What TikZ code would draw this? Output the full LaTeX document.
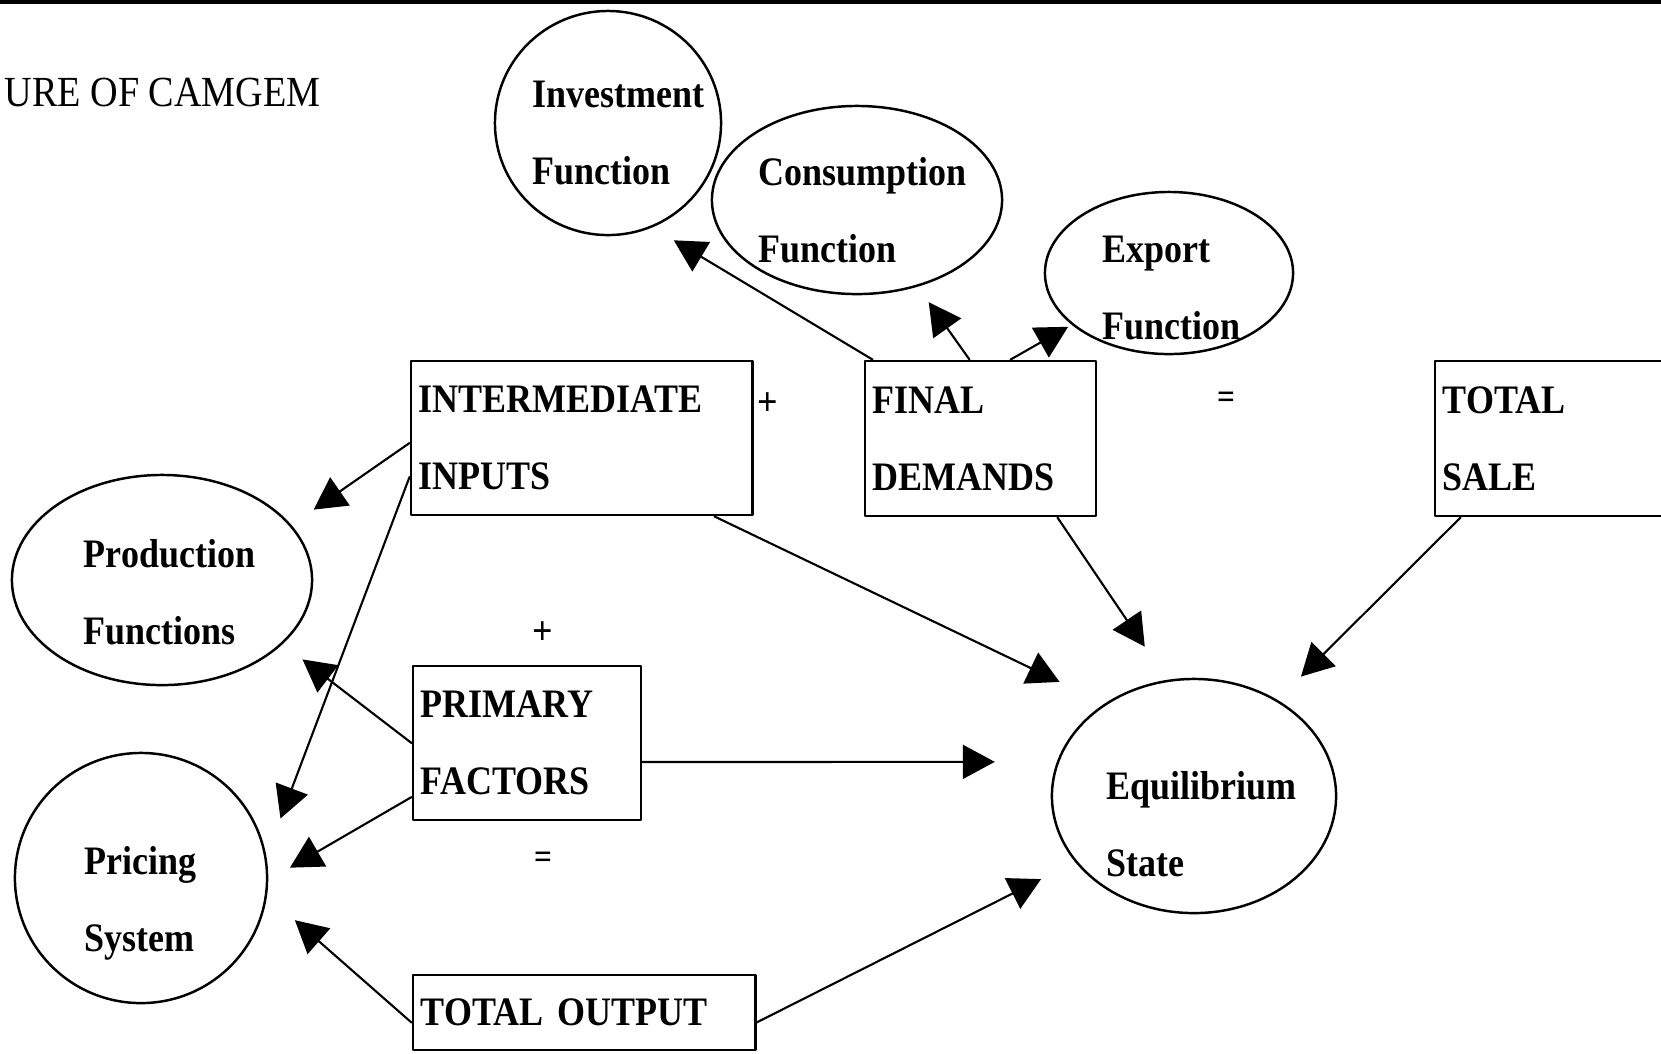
\documentclass[tikz,border=0pt]{standalone}
\usepackage{fontspec}
\setmainfont{Liberation Serif}[FakeStretch=0.89]
\usetikzlibrary{shapes.geometric,arrows.meta}

\begin{document}
\begin{tikzpicture}[x=0.01cm,y=-0.01cm,line cap=round,line join=round,
  box/.style={draw,line width=0.8pt,rectangle,inner xsep=0.08cm,inner ysep=0pt,align=left,
    font=\bfseries\fontsize{11.5}{21.9}\selectfont},
  oval/.style={draw,line width=0.7pt,ellipse,inner sep=0pt},
  lbl/.style={anchor=base west,align=left,inner sep=0pt,font=\bfseries\fontsize{11.5}{21.9}\selectfont},
  sign/.style={inner sep=0pt,font=\bfseries\fontsize{11.5}{12}\selectfont},
  arr/.style={line width=0.6pt,-{Triangle[length=0.32cm,width=0.34cm]}}]
\useasboundingbox (0,0) rectangle (1661,1053);
\clip (0,0) rectangle (1661,1053);
\draw[line width=1.3pt] (0,2) -- (1661,2);
\node[anchor=base west,inner sep=0pt,font=\fontsize{12.2}{14}\selectfont] (title) at (4,106) {URE OF CAMGEM};

\node[oval,minimum width=2.26cm,minimum height=2.24cm] (inv) at (608,123) {};
\node[oval,minimum width=2.90cm,minimum height=1.88cm] (con) at (857,200) {};
\node[oval,minimum width=2.48cm,minimum height=1.62cm] (exp) at (1169,273) {};
\node[oval,minimum width=3.00cm,minimum height=2.10cm] (prod) at (162,580) {};
\node[oval,minimum width=2.52cm,minimum height=2.50cm] (price) at (141,878) {};
\node[oval,minimum width=2.84cm,minimum height=2.34cm] (eq) at (1194,796) {};
\node[lbl] (invlbl) at (532,184) {Investment\\Function};
\node[lbl] (conlbl) at (758,262) {Consumption\\Function};
\node[lbl] (explbl) at (1102,339) {Export\\Function};
\node[lbl] (prodlbl) at (83,644) {Production\\Functions};
\node[lbl] (pricelbl) at (84,951) {Pricing\\System};
\node[lbl] (eqlbl) at (1106,876) {Equilibrium\\State};

\node[box,text width=3.25cm,minimum height=1.54cm] (inter) at (581.5,438) {INTERMEDIATE\\INPUTS};
\node[box,text width=2.15cm,minimum height=1.55cm] (fin) at (980.5,438.5) {FINAL\\DEMANDS};
\node[box,text width=2.24cm,minimum height=1.55cm] (sale) at (1555,438.5) {TOTAL\\SALE};
\node[box,text width=2.12cm,minimum height=1.54cm] (prim) at (527,743) {PRIMARY\\FACTORS};
\node[box,text width=3.26cm,minimum height=0.75cm] (out) at (584,1012.5) {TOTAL OUTPUT};

\node[sign] (plusa) at (768,404) {+};
\node[sign,font=\bfseries\fontsize{10}{10}\selectfont] (eqa) at (1226,400) {=};
\node[sign] (plusb) at (543,633) {+};
\node[sign,font=\bfseries\fontsize{10}{10}\selectfont] (eqb) at (543,860) {=};

\draw[arr,shorten >=0.25cm] ([xshift=0.09cm]fin.north west) -- (inv.293);
\draw[arr,shorten >=0.19cm] ([xshift=-0.11cm]fin.north) -- (con.305);
\draw[arr,shorten >=0.04cm] ([xshift=0.3cm]fin.north) -- (exp.208);
\draw[arr,shorten >=0.40cm] ([xshift=-0.4cm]fin.south east) -- (eq.103);
\draw[arr,shorten >=0.50cm] ([xshift=-0.39cm]inter.south east) -- (eq.134);
\draw[arr,shorten >=0.33cm] ([xshift=0.27cm]sale.south west) -- (eq.49);
\draw[arr,shorten >=0.62cm] ([yshift=-0.19cm]prim.east) -- (eq.166);
\draw[arr,shorten >=0.38cm] ([yshift=-0.1cm]out.east) -- (eq.209);
\draw[arr,shorten >=0.27cm] ([yshift=-0.05cm]inter.west) -- (prod.23);
\draw[arr,shorten >=0.40cm] ([yshift=-0.39cm]inter.west) -- (price.10);
\draw[arr,shorten >=0.25cm] (prim.west) -- (prod.332);
\draw[arr,shorten >=0.25cm] ([yshift=-0.54cm]prim.west) -- (price.359);
\draw[arr,shorten >=0.37cm] ([yshift=-0.1cm]out.west) -- (price.352);
\end{tikzpicture}
\end{document}
